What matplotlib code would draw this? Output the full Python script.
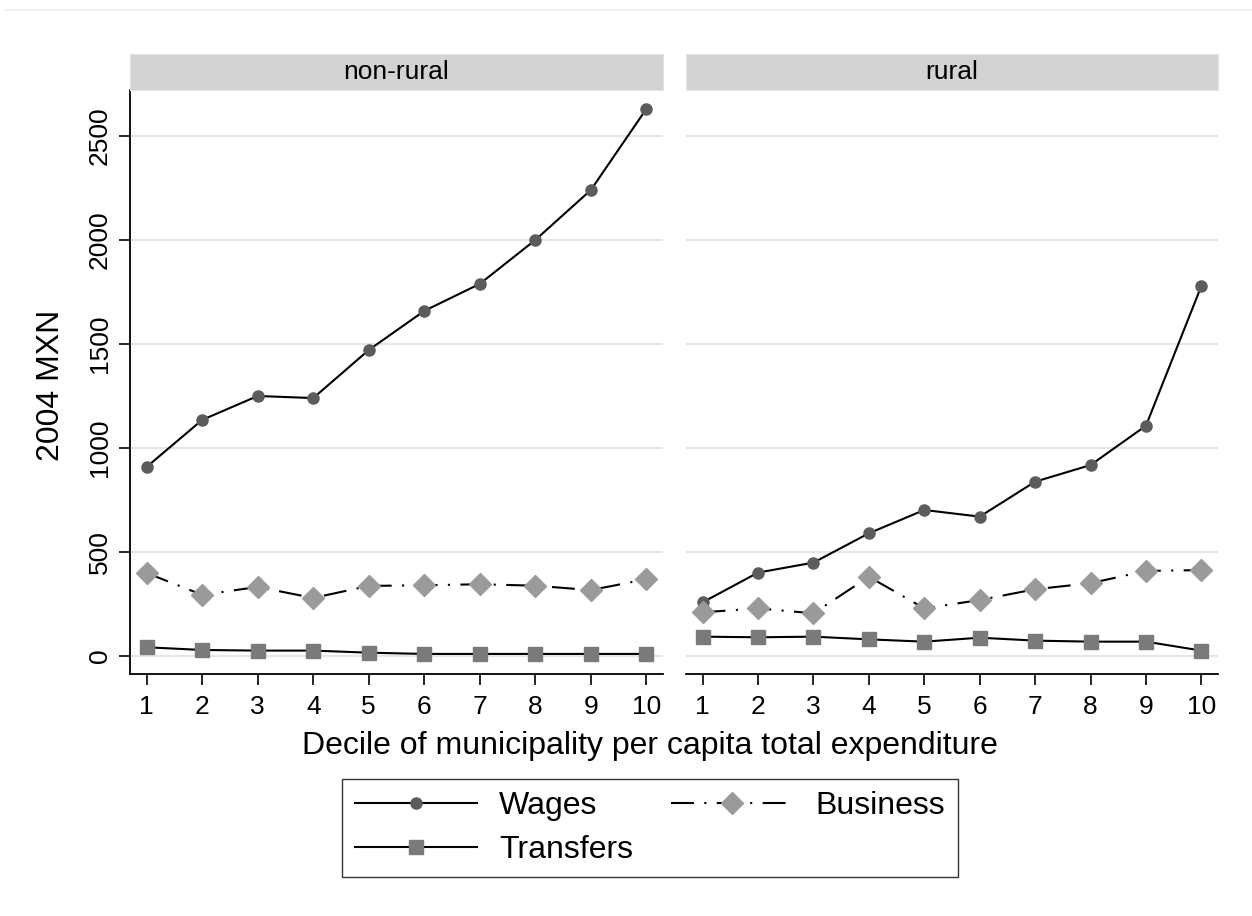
import matplotlib
matplotlib.use('Agg')
import matplotlib.pyplot as plt
from matplotlib.lines import Line2D

plt.rcParams['font.family'] = ['Liberation Sans', 'DejaVu Sans']

deciles = [1, 2, 3, 4, 5, 6, 7, 8, 9, 10]
panels = ['non-rural', 'rural']

wages_nonrural = [909, 1135, 1250, 1240, 1471, 1659, 1789, 2000, 2240, 2630]
business_nonrural = [399, 294, 332, 279, 337, 340, 345, 338, 317, 369]
transfers_nonrural = [42, 29, 26, 26, 16, 10, 10, 10, 10, 10]

wages_rural = [258, 401, 449, 590, 702, 670, 838, 918, 1107, 1779]
business_rural = [210, 229, 205, 381, 229, 269, 321, 350, 409, 413]
transfers_rural = [93, 90, 93, 80, 69, 88, 74, 69, 69, 26]

yticks = [0, 500, 1000, 1500, 2000, 2500]

data = {
    'non-rural': (wages_nonrural, business_nonrural, transfers_nonrural),
    'rural': (wages_rural, business_rural, transfers_rural),
}

W, H = 1252, 916
fig = plt.figure(figsize=(W / 100, H / 100), dpi=100)

# faint frame line at the top
fig.add_artist(Line2D([5 / W, 1], [1 - 10 / H, 1 - 10 / H], color='#eeeeee', lw=1.2))

bd_style = dict(color='black', lw=1.5, dashes=(11, 5, 1, 5))
wage_style = dict(color='black', lw=1.5, marker='o', ms=8, mfc='#5c5c5c', mec='#5c5c5c')
tr_style = dict(color='black', lw=1.5, marker='s', ms=10, mfc='#7a7a7a', mec='#7a7a7a')
bus_mk = dict(marker='D', ms=11, mfc='#9a9a9a', mec='#9a9a9a')

lefts = [130, 686]
rights = [663, 1218]
top, bottom = 90, 674
for i, name in enumerate(panels):
    l, r = lefts[i], rights[i]
    ax = fig.add_axes([l / W, 1 - bottom / H, (r - l) / W, (bottom - top) / H])
    wages, business, transfers = data[name]
    for y in yticks:
        ax.axhline(y, color='#e6e6e6', lw=1.6, zorder=0)
    ax.plot(deciles, wages, zorder=3, **wage_style)
    ax.plot(deciles, business, zorder=3, **bus_mk, **bd_style)
    ax.plot(deciles, transfers, zorder=3, **tr_style)
    ax.set_xlim(0.7, 10.3)
    ax.set_ylim(-86.5, 2721)
    ax.set_xticks(deciles)
    ax.set_xticklabels([str(d) for d in deciles], fontsize=19)
    ax.tick_params(axis='x', length=8, width=1.2, pad=7)
    for s in ['top', 'right']:
        ax.spines[s].set_visible(False)
    ax.spines['bottom'].set_linewidth(1.3)
    if i == 0:
        ax.set_yticks(yticks)
        ax.set_yticklabels([str(y) for y in yticks], fontsize=19, rotation=90, va='center')
        ax.tick_params(axis='y', length=8, width=1.2, pad=5)
        ax.spines['left'].set_linewidth(1.3)
    else:
        ax.set_yticks([])
        ax.spines['left'].set_visible(False)

    # strip header
    sax = fig.add_axes([l / W, 1 - 90 / H, (r - l) / W, 36 / H])
    sax.set_facecolor('#d3d3d3')
    for s in sax.spines.values():
        s.set_color('#dfe6ea')
    sax.set_xticks([])
    sax.set_yticks([])
    sax.text(0.5, 0.5, name, ha='center', va='center', fontsize=19, transform=sax.transAxes)

fig.text(650 / W, 1 - 746 / H, 'Decile of municipality per capita total expenditure',
         ha='center', va='center', fontsize=23)
fig.text(51 / W, 1 - 385 / H, '2004 MXN', ha='center', va='center', rotation=90, fontsize=23)

handles = [
    Line2D([], [], **wage_style),
    Line2D([], [], **tr_style),
    Line2D([], [], **bus_mk, **bd_style),
]
labels = ['Wages', 'Transfers', 'Business']
leg = fig.legend(handles, labels, ncol=2, loc='center', bbox_to_anchor=(650 / W, 1 - 828 / H),
                 fontsize=23, frameon=True, fancybox=False, edgecolor='black',
                 handlelength=3.8, handletextpad=0.7, columnspacing=1.2,
                 labelspacing=0.42, borderpad=0.4)
leg.get_frame().set_linewidth(1.0)

fig.savefig('out.png', dpi=100, facecolor='white')
